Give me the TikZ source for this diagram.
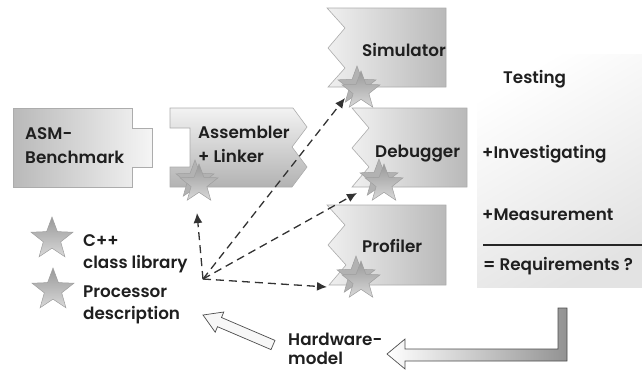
\documentclass[tikz,border=0pt]{standalone}
\usepackage{fontspec}
\setmainfont{Poppins}[UprightFont={* SemiBold}]
\usetikzlibrary{shapes.geometric,arrows.meta}
\begin{document}
\begin{tikzpicture}[x=1pt,y=-1pt,
  box/.style={draw=gray!65, line width=0.6pt},
  lbl/.style={anchor=base west, inner sep=0pt, font=\fontsize{16.8}{20}\selectfont, text=black!88},
  starfront/.style={star, star points=5, star point ratio=2.4, minimum size=40pt, inner sep=0pt, draw=gray!75, line width=0.5pt, top color=gray!80, bottom color=gray!30},
  starback/.style={star, star points=5, star point ratio=2.4, minimum size=40pt, inner sep=0pt, draw=gray!75, line width=0.5pt, fill=gray!60},
  dasharrow/.style={draw=black!80, line width=1.3pt, dash pattern=on 8pt off 5pt, -{Latex[length=10pt,width=9pt]}},
  blockarrow/.style={draw=black!70, line width=0.7pt}
]
\useasboundingbox (0,0) rectangle (642,370);

% Testing box
\shade[top color=white, bottom color=gray!22, shading angle=30] (477,54) rectangle (642,287);

% ASM-Benchmark
\path[box, left color=gray!55, right color=gray!8]
  (13,108) -- (132,108) -- (132,128) -- (152,128) -- (152,167) -- (132,167) -- (132,187) -- (13,187) -- cycle;
% Assembler + Linker
\path[box, top color=gray!10, bottom color=gray!60]
  (170,108) -- (293,108) -- (307,127) -- (292,147) -- (307,167) -- (292,187) -- (170,187)
  -- (170,167) -- (190,167) -- (190,128) -- (170,128) -- cycle;
% Simulator
\path[box, left color=gray!12, right color=gray!55]
  (327,8) -- (446,8) -- (446,87) -- (328,87) -- (345,68) -- (328,48) -- (345,28) -- cycle;
% Debugger
\path[box, left color=gray!12, right color=gray!55]
  (352,108) -- (467,108) -- (467,187) -- (352,187) -- (369,167) -- (352,148) -- (369,128) -- cycle;
% Profiler
\path[box, left color=gray!12, right color=gray!55]
  (327,205) -- (446,205) -- (446,285) -- (329,285) -- (346,265) -- (328,245) -- (345,225) -- cycle;

% stars on boxes
\node[starback]  (sAb) at (195,180) {};
\node[starfront] (sA)  at (199,184) {};
\node[starback]  (sSb) at (357,86) {};
\node[starfront] (sS)  at (361,91) {};
\node[starback]  (sDb) at (379,179) {};
\node[starfront] (sD)  at (384,184) {};
\node[starback]  (sPb) at (356,276) {};
\node[starfront] (sP)  at (361,281) {};

% legend stars
\node[starfront, minimum size=44pt] (l1) at (52,239) {};
\node[starfront, minimum size=44pt] (l2) at (53,290) {};

% dashed arrows
\coordinate (hub) at (203,279);
\coordinate (tA) at (197,213);
\coordinate (tS) at (345,98);
\coordinate (tD) at (357,193);
\coordinate (tP) at (327,287);
\draw[dasharrow] (hub) -- (tA);
\draw[dasharrow] (hub) -- (tS);
\draw[dasharrow] (hub) -- (tD);
\draw[dasharrow] (hub) -- (tP);

% hardware L-arrow
\path[blockarrow, left color=white, right color=gray!85]
  (558,308) -- (567,308) -- (567,361) -- (405,361) -- (405,369) -- (387,354) -- (405,339) -- (405,349) -- (558,349) -- cycle;
% white arrow to legend
\path[blockarrow, fill=gray!6]
  (203,315) -- (223.8,312.0) -- (221.5,317.5) -- (275.0,340.4) -- (271.0,349.6) -- (217.5,326.7) -- (215.2,332.2) -- cycle;

% labels
\node[lbl] (asm1) at (25,139) {ASM-};
\node[lbl] (asm2) at (25,163) {Benchmark};
\node[lbl] (as1) at (198,138) {Assembler};
\node[lbl] (as2) at (198,162) {+ Linker};
\node[lbl] (sim) at (362,56) {Simulator};
\node[lbl] (dbg) at (375,157) {Debugger};
\node[lbl] (prf) at (362,252) {Profiler};
\node[lbl] (lg1) at (83,246) {C++};
\node[lbl] (lg2) at (83,268) {class library};
\node[lbl] (lg3) at (83,297) {Processor};
\node[lbl] (lg4) at (83,319) {description};
\node[lbl] (hw1) at (288,345) {Hardware-};
\node[lbl] (hw2) at (288,364) {model};
\node[lbl] (t1) at (503,83) {Testing};
\node[lbl] (t2) at (482,158) {+Investigating};
\node[lbl] (t3) at (482,220) {+Measurement};
\node[lbl] (t4) at (483,270) {= Requirements ?};
\coordinate (rl) at (483,245);
\coordinate (rr) at (642,245);
\draw[line width=1.8pt, black!85] (rl) -- (rr);
\end{tikzpicture}
\end{document}
